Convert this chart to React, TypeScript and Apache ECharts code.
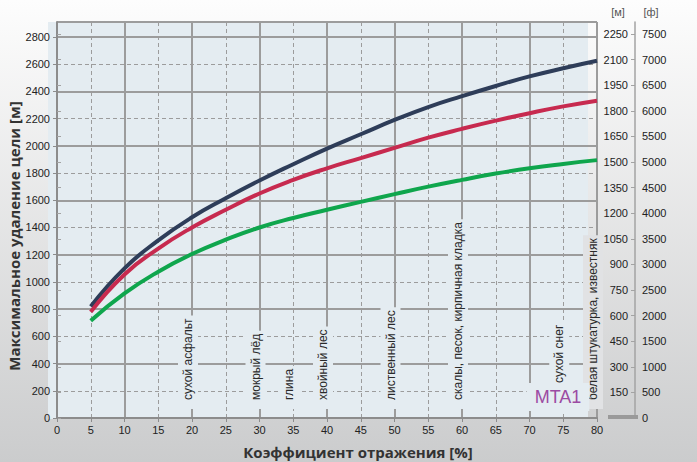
import React, { useEffect, useRef } from "react";
import * as echarts from "echarts";

// Reflection coefficient [%] and max target range [m] for three curves
const reflectance = [5, 10, 15, 20, 25, 30, 35, 40, 45, 50, 55, 60, 65, 70, 75, 80];
const rangeNavy = [820, 1100, 1305, 1475, 1615, 1745, 1865, 1980, 2085, 2190, 2285, 2365, 2440, 2510, 2570, 2625];
const rangeRed = [780, 1055, 1245, 1400, 1530, 1650, 1750, 1835, 1910, 1985, 2060, 2125, 2185, 2240, 2290, 2332];
const rangeGreen = [715, 915, 1075, 1205, 1310, 1400, 1470, 1530, 1588, 1645, 1700, 1750, 1796, 1835, 1867, 1895];

// Surface annotations (reflectance value of each surface)
const surfaceNames = [
  "сухой асфальт",
  "мокрый лёд",
  "глина",
  "хвойный лес",
  "лиственный лес",
  "скалы, песок, кирпичная кладка",
  "сухой снег",
  "белая штукатурка, известняк",
];
const surfaceX = [20, 30, 35, 40, 50, 60, 75, 80];

// Axis texts
const xAxisTitle = "Коэффициент отражения [%]";
const yAxisTitle = "Максимальное удаление цели [м]";
const rightUnitM = "[м]";
const rightUnitFt = "[ф]";
const badge = "MTA1";

const plain = (v: number) => String(v);
const tickFont = {
  color: "#222",
  fontSize: 11,
  fontFamily: '"Liberation Sans", Arial, sans-serif',
  formatter: plain,
};
const gridColor = "#9c9c9c";
const plotBg = "#e4ecf1";

function buildOption() {
  const toPairs = (ys: number[]) => reflectance.map((x, i) => [x, ys[i]]);
  const lineSeries = (name: string, ys: number[], color: string) => ({
    name,
    type: "line",
    data: toPairs(ys),
    smooth: true,
    showSymbol: false,
    symbol: "none",
    xAxisIndex: 0,
    yAxisIndex: 0,
    lineStyle: { color, width: 4 },
    itemStyle: { color },
    z: 5,
  });

  return {
    animation: false,
    backgroundColor: new echarts.graphic.LinearGradient(0, 0, 0, 1, [
      { offset: 0, color: "#fdfdfd" },
      { offset: 1, color: "#cbcccd" },
    ]),
    grid: { left: 57, right: 100, top: 22, bottom: 44, containLabel: false },
    xAxis: [
      {
        type: "value",
        min: 0,
        max: 80,
        interval: 5,
        position: "bottom",
        axisLine: { show: true, onZero: false, lineStyle: { color: "#8c8c8c", width: 2 } },
        axisTick: { show: true, length: 4, lineStyle: { color: "#8c8c8c" } },
        axisLabel: { ...tickFont, margin: 6 },
        splitLine: { show: true, lineStyle: { color: gridColor, width: 1, type: [4, 3] } },
      },
      {
        type: "value",
        min: 0,
        max: 80,
        interval: 10,
        position: "top",
        axisLine: { show: false },
        axisTick: { show: false },
        axisLabel: { show: false },
        splitLine: { show: true, lineStyle: { color: gridColor, width: 2 } },
      },
    ],
    yAxis: [
      {
        type: "value",
        min: 0,
        max: 2910,
        interval: 200,
        position: "left",
        axisLine: { show: true, onZero: false, lineStyle: { color: "#8c8c8c", width: 2 } },
        axisTick: { show: true, length: 4, lineStyle: { color: "#8c8c8c" } },
        axisLabel: { ...tickFont, margin: 7, showMaxLabel: false },
        splitLine: { show: true, lineStyle: { color: gridColor, width: 1, type: [4, 3] } },
      },
      {
        type: "value",
        min: 0,
        max: 2910,
        interval: 400,
        position: "left",
        axisLine: { show: false },
        axisTick: { show: false },
        axisLabel: { show: false },
        splitLine: { show: true, lineStyle: { color: gridColor, width: 2 } },
      },
      {
        type: "value",
        min: 0,
        max: 2320,
        interval: 150,
        position: "right",
        offset: 38,
        axisLine: { show: true, onZero: false, lineStyle: { color: "#a3a3a3", width: 1.5 } },
        axisTick: { show: true, inside: true, length: 4, lineStyle: { color: "#a3a3a3" } },
        axisLabel: { ...tickFont, inside: true, margin: 7, showMaxLabel: false, showMinLabel: false },
        splitLine: { show: false },
      },
      {
        type: "value",
        min: 0,
        max: 7734,
        interval: 500,
        position: "right",
        offset: 38,
        axisLine: { show: false },
        axisTick: { show: true, length: 4, lineStyle: { color: "#a3a3a3" } },
        axisLabel: { ...tickFont, margin: 7, showMaxLabel: false },
        splitLine: { show: false },
      },
    ],
    series: [
      lineSeries("Кривая 1", rangeNavy, "#2e3d59"),
      lineSeries("Кривая 2", rangeRed, "#c72a4f"),
      lineSeries("Кривая 3", rangeGreen, "#0fa64d"),
      {
        type: "custom",
        coordinateSystem: "cartesian2d",
        xAxisIndex: 0,
        yAxisIndex: 0,
        silent: true,
        clip: false,
        z: 3,
        encode: { x: 0, y: 1 },
        data: surfaceX.map((x) => [x, 0]),
        renderItem: (params: any, api: any) => {
          const name = surfaceNames[params.dataIndex];
          const p = api.coord([api.value(0), 0]);
          const raised = name === "сухой снег";
          const edge = params.dataIndex === surfaceNames.length - 1;
          return {
            type: "text",
            x: p[0] - 4,
            y: p[1] - (raised ? 26 : 9),
            rotation: Math.PI / 2,
            style: {
              text: name,
              x: 0,
              y: 0,
              align: "left",
              verticalAlign: "middle",
              fill: "#2a2a2a",
              font: '12px "Liberation Sans", Arial, sans-serif',
              backgroundColor: edge ? "#e1e2e4" : plotBg,
              padding: [4, 3, 4, 9],
            },
          };
        },
      },
    ],
    graphic: [
      {
        type: "rect",
        z: -1,
        silent: true,
        shape: { x: 48, y: 22, width: 540, height: 397 },
        style: { fill: plotBg },
      },
      {
        type: "rect",
        z: 10,
        silent: true,
        shape: { x: 608, y: 415, width: 30, height: 4 },
        style: { fill: "#9a9a9a" },
      },
      {
        type: "text",
        z: 10,
        x: 358,
        y: 452,
        style: {
          text: xAxisTitle,
          font: 'bold 15px "Open Sans", sans-serif',
          fill: "#333",
          align: "center",
          verticalAlign: "middle",
        },
      },
      {
        type: "text",
        z: 10,
        x: 14,
        y: 236,
        rotation: Math.PI / 2,
        style: {
          text: yAxisTitle,
          font: 'bold 15px "Open Sans", sans-serif',
          fill: "#333",
          align: "center",
          verticalAlign: "middle",
        },
      },
      {
        type: "text",
        z: 10,
        x: 618,
        y: 12,
        style: { text: rightUnitM, font: '11px "Liberation Sans", Arial, sans-serif', fill: "#555", align: "center", verticalAlign: "middle" },
      },
      {
        type: "text",
        z: 10,
        x: 651,
        y: 12,
        style: { text: rightUnitFt, font: '11px "Liberation Sans", Arial, sans-serif', fill: "#555", align: "center", verticalAlign: "middle" },
      },
      {
        type: "text",
        z: 10,
        x: 558,
        y: 397,
        style: {
          text: badge,
          font: '18px "Liberation Sans", Arial, sans-serif',
          fill: "#9b4ba3",
          align: "center",
          verticalAlign: "middle",
          backgroundColor: plotBg,
          padding: [5, 8, 5, 8],
        },
      },
    ],
  };
}

export default function App() {
  const ref = useRef<HTMLDivElement>(null);
  useEffect(() => {
    if (!ref.current) return;
    const chart = echarts.init(ref.current, null, { renderer: "svg" });
    chart.setOption(buildOption() as any);
    return () => chart.dispose();
  }, []);
  return (
    <div
      ref={ref}
      style={{ position: "fixed", left: 0, top: 0, width: 697, height: 462 }}
    />
  );
}
